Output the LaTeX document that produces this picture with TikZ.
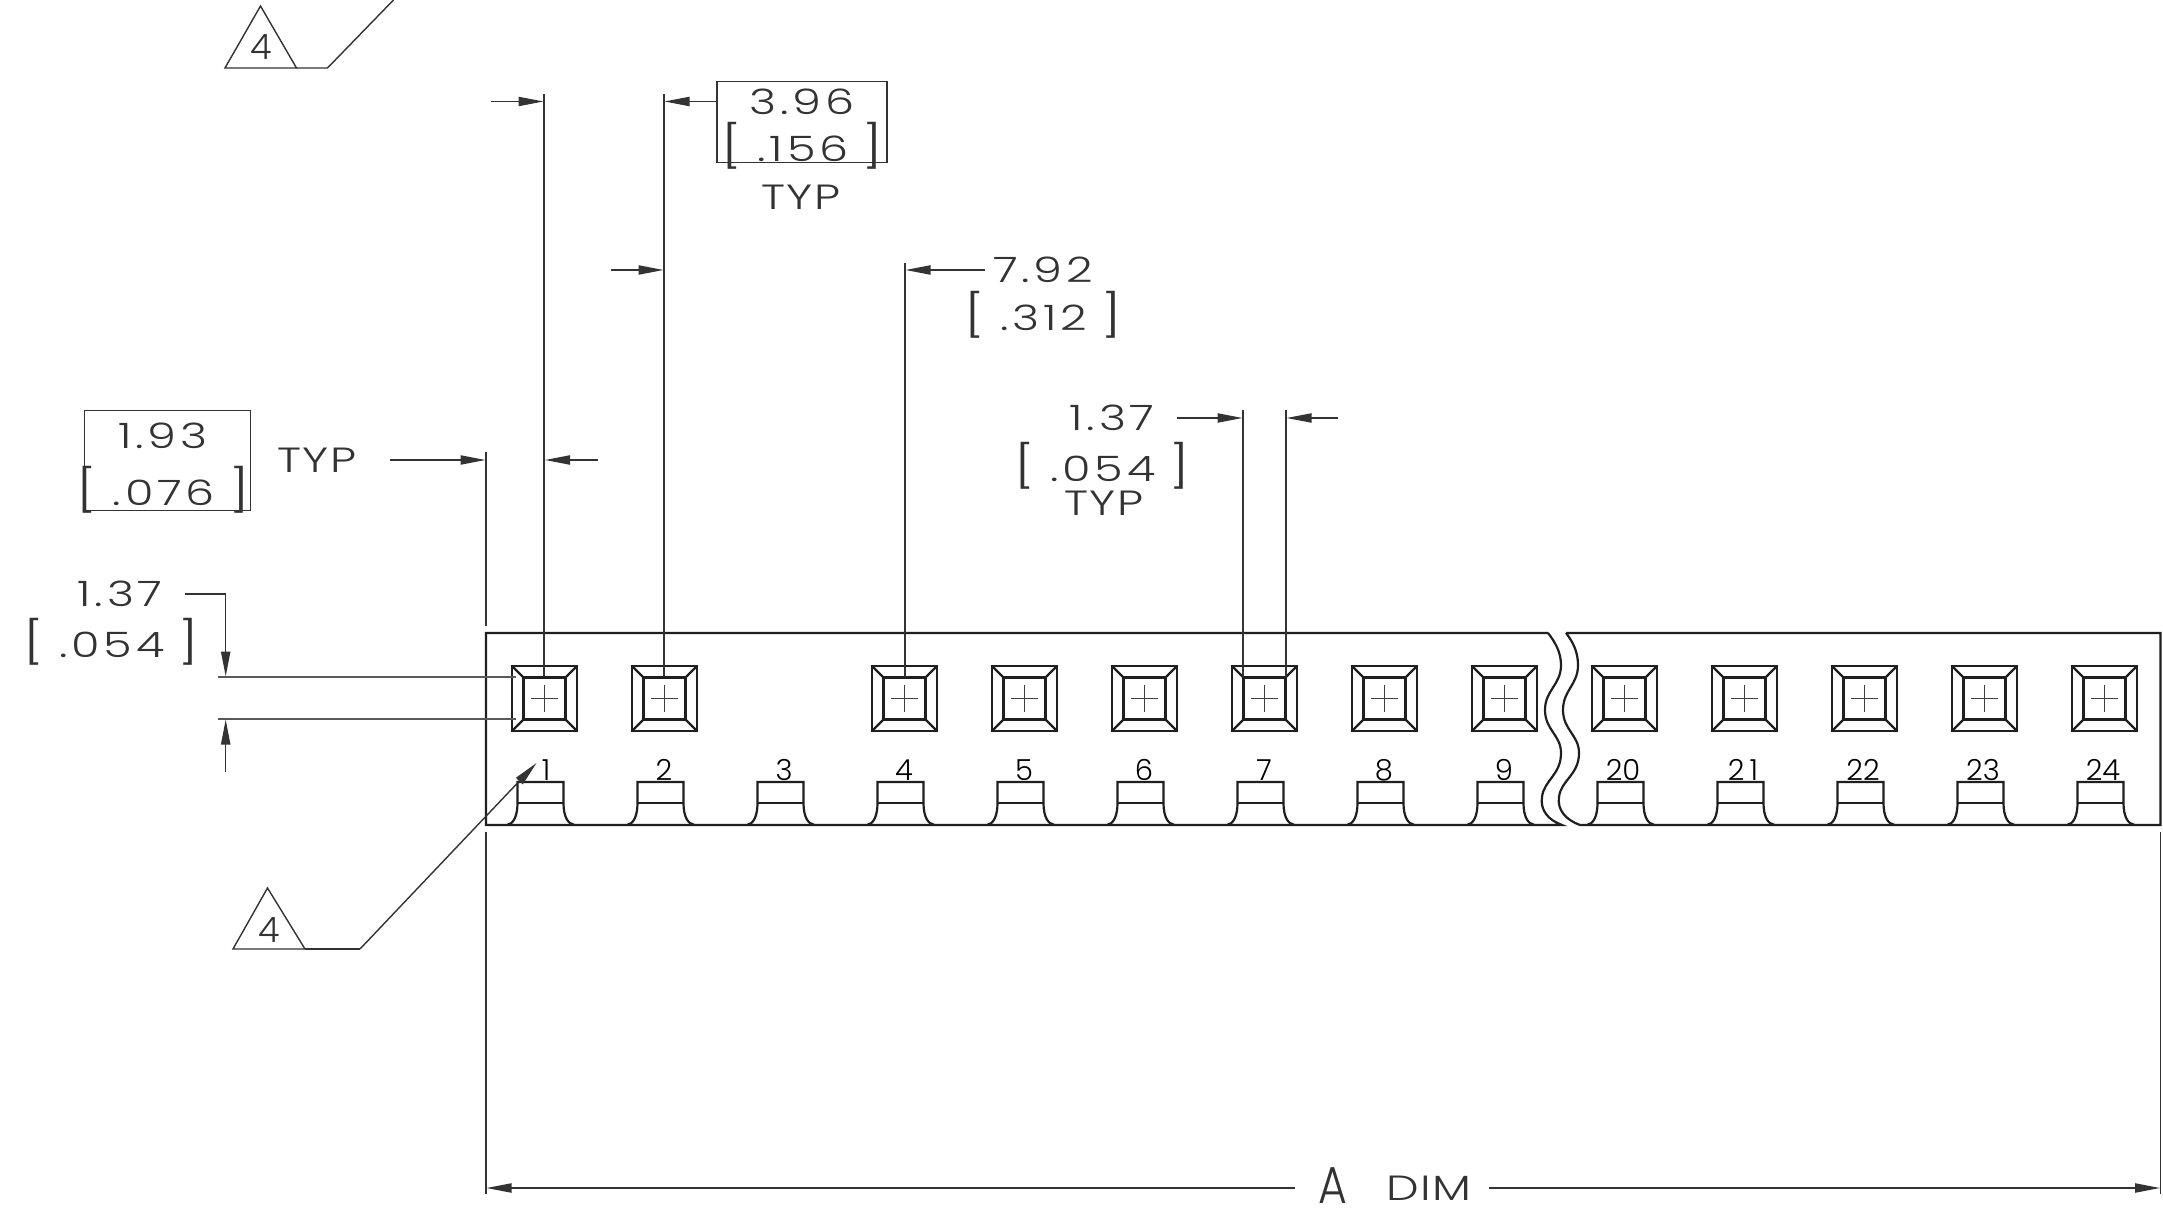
\documentclass[tikz,border=0pt]{standalone}
\usepackage{fontspec}
\setmainfont{Poppins Light}
\newfontfamily\dimfont[FakeStretch=1.32,LetterSpace=11]{Poppins Light}
\newfontfamily\typfont[FakeStretch=1.32,LetterSpace=3]{Poppins Light}
\newfontfamily\narrowfont[FakeStretch=0.85]{Poppins Light}
\usetikzlibrary{arrows.meta}
\tikzset{
  x=0.5pt,y=-0.5pt,
  every node/.style={inner sep=0pt,outer sep=0pt,text=black!80},
  thick line/.style={line width=1.1pt,black!88},
  thin line/.style={line width=0.7pt,black!80},
  dim/.style={thin line,-{Triangle[length=12.5pt,width=4.6pt]}},
  big/.style={font=\dimfont\fontsize{17.5}{18}\selectfont},
  typ/.style={font=\typfont\fontsize{17.5}{18}\selectfont},
  small/.style={font=\fontsize{14.5}{15}\selectfont,text=black},
  huge/.style={font=\narrowfont\fontsize{26}{26}\selectfont}
}
\newcommand{\brk}[1]{{\fontsize{21}{21}\selectfont[}\hspace{8pt}#1\hspace{7pt}{\fontsize{21}{21}\selectfont]}}
\begin{document}
\begin{tikzpicture}
\useasboundingbox (0,0) rectangle (2163,1213);
\fill[white] (0,0) rectangle (2163,1213);
% strip
\draw[thick line] (1548,633) -- (486,633) -- (486,825) -- (1562,825)
  .. controls (1548,820) and (1540,810) .. (1542,797)
  .. controls (1544,780) and (1561,775) .. (1561,753)
  .. controls (1561,735) and (1545,730) .. (1545,710)
  .. controls (1545,690) and (1561,685) .. (1561,665)
  .. controls (1561,652) and (1555,642) .. (1548,633);
\draw[thick line] (1566,633) -- (2160.5,633) -- (2160.5,825) -- (1580,825)
  .. controls (1566,820) and (1557,810) .. (1559,797)
  .. controls (1561,780) and (1579,775) .. (1579,753)
  .. controls (1579,735) and (1563,730) .. (1563,710)
  .. controls (1563,690) and (1578,685) .. (1578,665)
  .. controls (1578,652) and (1573,642) .. (1566,633);
% pads
\foreach \n in {0,1,3,4,5,6,7,8,9,10,11,12,13}{
  \pgfmathsetmacro{\cx}{544.5+120*\n}
  \begin{scope}[shift={(\cx,698.5)}]
    \draw[thick line] (-32.5,-32.5) rectangle (32.5,32.5);
    \draw[thick line] (-21,-21) rectangle (21,21);
    \draw[thick line] (-32.5,-32.5) -- (-21,-21) (32.5,-32.5) -- (21,-21)
      (-32.5,32.5) -- (-21,21) (32.5,32.5) -- (21,21);
    \draw[line width=0.6pt,black!75] (-13.5,0) -- (13.5,0) (0,-13.5) -- (0,13.5);
  \end{scope}
}
% tabs and numbers
\foreach \n/\lab/\nx in {0/1/546,1/2/664,2/3/784,3/4/904,4/5/1024,5/6/1144,6/7/1264,7/8/1384,8/9/1504,9/20/1623,10/2\hspace{2.5pt}1/1743,11/22/1863,12/23/1983,13/24/2103}{
  \pgfmathsetmacro{\cx}{540.5+120*\n}
  \begin{scope}[shift={(\cx,0)}]
    \draw[thick line] (-33.5,825) .. controls (-27,824) and (-23,816) .. (-23,803)
      -- (-23,782) -- (23,782) -- (23,803)
      .. controls (23,816) and (27,824) .. (34,825);
    \draw[thick line] (-23,803) -- (23,803);
  \end{scope}
  \node[small] (num\n) at (\nx,770) {\lab};
}
% extension lines
\coordinate (e1) at (486,452); \coordinate (e2) at (486,626);
\draw[thin line] (e1) -- (e2);
\coordinate (e3) at (486,832); \coordinate (e4) at (486,1194);
\draw[thin line] (e3) -- (e4);
\coordinate (e5) at (2160.5,832); \coordinate (e6) at (2160.5,1194);
\draw[thin line] (e5) -- (e6);
\draw[thin line] (544,94) -- (544,677);
\draw[thin line] (664,94) -- (664,677);
\draw[thin line] (905,263) -- (905,677);
\draw[thin line] (1243,410) -- (1243,677);
\draw[thin line] (1286,410) -- (1286,677);
\draw[line width=0.7pt,black!65] (218,677) -- (516,677);
\draw[line width=0.7pt,black!65] (218,719) -- (516,719);
% top-left triangle
\draw[thin line] (260.5,6) -- (296.5,68) -- (225,68) -- cycle;
\draw[thin line] (296.5,68) -- (327.5,68) -- (393.5,0);
\node[font=\fontsize{17.5}{18}\selectfont] (t1) at (261,47) {4};
% lower triangle
\draw[thin line] (267.5,888) -- (305,949) -- (233,949) -- cycle;
\coordinate (lt) at (360,949);
\coordinate (lta) at (536.5,763);
\draw[thin line] (305,949) -- (lt);
\draw[dim] (lt) -- (lta);
\node[font=\fontsize{17.5}{18}\selectfont] (t2) at (269,930) {4};
% 3.96
\node[draw,thin line,minimum width=85pt,minimum height=40.5pt] (b396) at (802,122) {};
\node[big] (t396) at (802,101.5) {3.96};
\node[big] (t156) at (802,146) {\brk{.156}};
\node[typ] (ttyp1) at (801,197) {TYP};
\coordinate (a1) at (491,101.5);
\draw[dim] (a1) -- (543.5,101.5);
\draw[dim] (b396.west |- a1) -- (664.5,101.5);
\coordinate (a2) at (611,270);
\draw[dim] (a2) -- (663.5,270);
% 7.92
\node[big] (t792) at (1043,270) {7.92};
\node[big] (t312) at (1043,315) {\brk{.312}};
\coordinate (a8) at (985,270);
\draw[dim] (a8) -- (905.5,270);
% 1.93
\node[draw,thin line,minimum width=83pt,minimum height=50pt] (b193) at (167.5,460.5) {};
\node[big] (t193) at (163,436) {1.93};
\node[big] (t076) at (163,490) {\brk{.076}};
\node[typ] (ttyp2) at (317,460) {TYP};
\coordinate (a3) at (390,460);
\draw[dim] (a3) -- (485.5,460);
\coordinate (a4) at (598,460);
\draw[dim] (a4) -- (545,460);
% 1.37 left
\node[big] (t137a) at (120,594) {1.37};
\node[big] (t054a) at (111,642) {\brk{.054}};
\coordinate (a9) at (185,594);
\draw[dim] (a9) -- (225.7,594) -- (225.7,676.5);
\coordinate (a5) at (225.7,772);
\draw[dim] (a5) -- (225.7,719.5);
% 1.37 mid
\node[big] (t137b) at (1112,418) {1.37};
\node[big] (t054b) at (1102,466) {\brk{.054}};
\node[typ] (ttyp3) at (1104,503) {TYP};
\coordinate (a6) at (1177,418);
\draw[dim] (a6) -- (1242.5,418);
\coordinate (a7) at (1338,418);
\draw[dim] (a7) -- (1286.5,418);
% A DIM
\node[huge] (tA) at (1333,1186) {A};
\node[typ] (tdim) at (1429,1188) {DIM};
\coordinate (a10) at (1295,1188);
\coordinate (a11) at (1489,1188);
\draw[dim] (a10) -- (486.5,1188);
\draw[dim] (a11) -- (2160,1188);
\end{tikzpicture}
\end{document}
